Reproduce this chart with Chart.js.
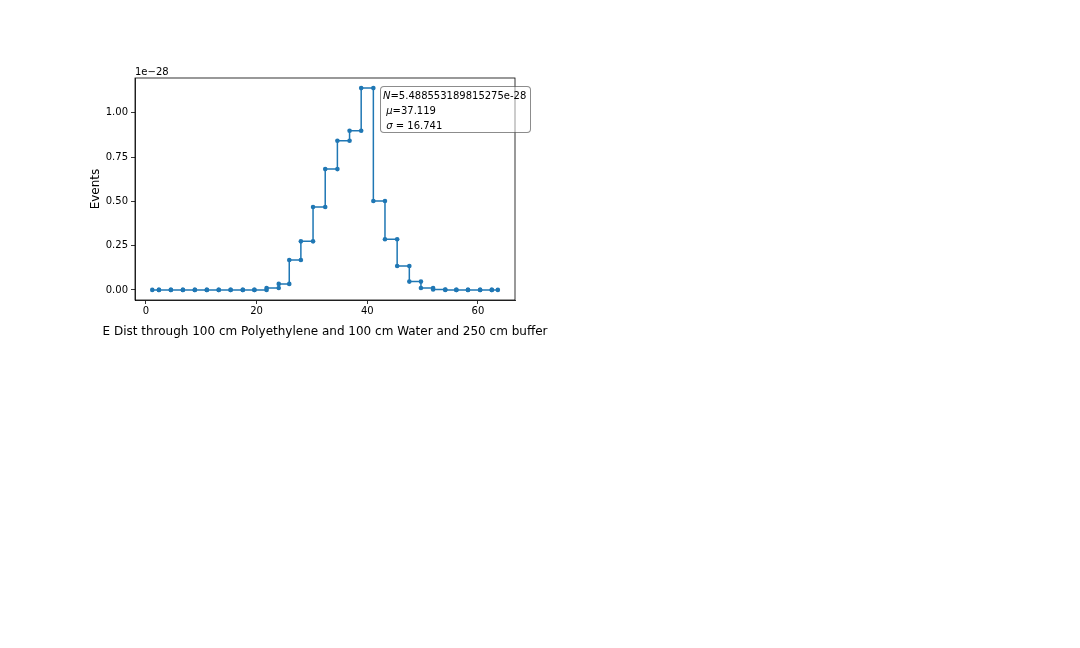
<!DOCTYPE html>
<html>
<head>
<meta charset="utf-8">
<script src="https://cdn.jsdelivr.net/npm/chart.js@4"></script>
<style>
    body { margin: 0; background: #fff; }
    #wrap { position: relative; width: 1080px; height: 648px; }
    .txt { position: absolute; font-family: "DejaVu Sans", sans-serif; color: #000; white-space: nowrap; }
    #offset { left: 135px; top: 66px; font-size: 10px; }
    #xlabel { left: 0; width: 650px; top: 324px; font-size: 12px; text-align: center; }
    #stats { left: 380px; top: 86px; width: 151px; height: 47px; font-size: 10px; line-height: 15px;
             border: 1px solid rgba(0,0,0,0.45); border-radius: 4px; background: rgba(255,255,255,0.5);
             padding: 1px 0 0 2px; box-sizing: border-box; }
</style>
</head>
<body>
<div id="wrap">
    <canvas id="histChart" width="1080" height="648"></canvas>
    <div class="txt" id="offset">1e−28</div>
    <div class="txt" id="xlabel">E Dist through 100 cm Polyethylene and 100 cm Water and 250 cm buffer</div>
    <div class="txt" id="stats">
        <div><i>N</i>=5.488553189815275e-28</div>
        <div>&nbsp;<i>μ</i>=37.119</div>
        <div>&nbsp;<i>σ</i> = 16.741</div>
    </div>
</div>
<script>
// bin edges (cm) and bin heights (units of 1e-28)
const binEdges = [1.14, 2.34, 4.50, 6.67, 8.83, 11.0, 13.15, 15.3, 17.5, 19.6, 21.8,
    24.0, 25.9, 28.0, 30.2, 32.4, 34.6, 36.8, 38.9, 41.1, 43.2, 45.4, 47.6, 49.7,
    51.9, 54.1, 56.1, 58.2, 60.4, 62.5, 63.6];
const binHeights = [0, 0, 0, 0, 0, 0, 0, 0, 0, 0,
    0.011, 0.034, 0.169, 0.274, 0.468, 0.682, 0.842, 0.898, 1.139, 0.502,
    0.286, 0.135, 0.047, 0.011, 0.002, 0, 0, 0, 0, 0];
const xTicks = [0, 20, 40, 60];
const yTicks = [0, 0.25, 0.5, 0.75, 1.0];

const yLabel = 'Events';

// each bin gives two points: left edge and right edge at the same height
function buildStepPoints(edges, heights) {
    const pts = [];
    heights.forEach((h, i) => {
        pts.push({ x: edges[i], y: h });
        pts.push({ x: edges[i + 1], y: h });
    });
    return pts;
}

const frame = {
    id: 'frame',
    afterDraw(chart) {
        const { ctx, chartArea: a } = chart;
        ctx.save();
        ctx.strokeStyle = '#000';
        ctx.lineWidth = 0.8;
        ctx.strokeRect(a.left, a.top, a.right - a.left, a.bottom - a.top);
        ctx.restore();
    }
};

const font = { family: '"DejaVu Sans", sans-serif', size: 10 };
const labelFont = { family: '"DejaVu Sans", sans-serif', size: 12 };

new Chart(document.getElementById('histChart'), {
    type: 'scatter',
    data: {
        datasets: [{
            data: buildStepPoints(binEdges, binHeights),
            showLine: true,
            borderColor: '#1f77b4',
            backgroundColor: '#1f77b4',
            borderWidth: 1.5,
            pointRadius: 2.3,
            pointBorderWidth: 0,
            tension: 0
        }]
    },
    options: {
        responsive: false,
        animation: false,
        devicePixelRatio: 1,
        layout: { padding: { left: 80, top: 78, right: 565, bottom: 308 } },
        plugins: { legend: { display: false }, tooltip: { enabled: false } },
        scales: {
            x: {
                type: 'linear',
                min: -1.98,
                max: 66.7,
                afterBuildTicks: s => { s.ticks = xTicks.map(v => ({ value: v })); },
                afterFit: s => { s.height = 40; },
                grid: { drawOnChartArea: false, tickLength: 4, tickColor: '#000', tickWidth: 0.8 },
                border: { color: '#000', width: 0.8 },
                ticks: { font: font, color: '#000', padding: 1, maxRotation: 0, callback: v => v }
            },
            y: {
                type: 'linear',
                min: -0.0569,
                max: 1.196,
                afterBuildTicks: s => { s.ticks = yTicks.map(v => ({ value: v })); },
                afterFit: s => { s.width = 55; },
                grid: { drawOnChartArea: false, tickLength: 4, tickColor: '#000', tickWidth: 0.8 },
                border: { color: '#000', width: 0.8 },
                ticks: { font: font, color: '#000', padding: 3, callback: v => v.toFixed(2) },
                title: { display: true, text: yLabel, font: labelFont, color: '#000', padding: { top: 9, bottom: 0 } }
            }
        }
    },
    plugins: [frame]
});
</script>
</body>
</html>
